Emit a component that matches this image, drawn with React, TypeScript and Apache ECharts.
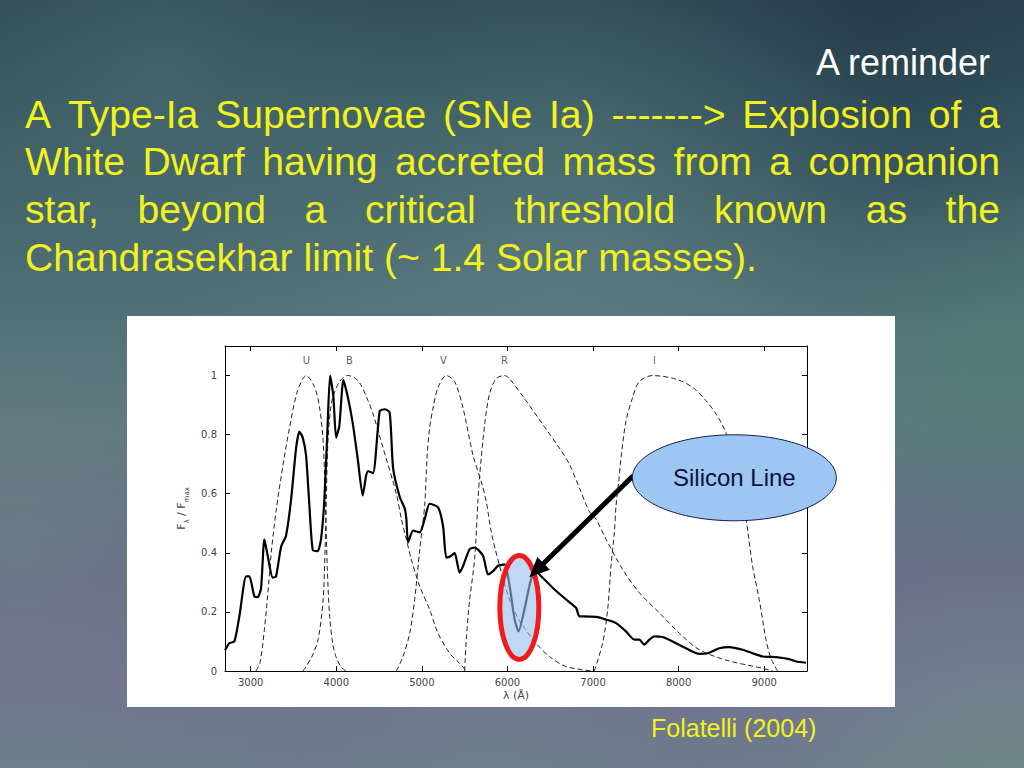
import React, { useEffect, useRef } from "react";
import * as echarts from "echarts";

// ---------- data ----------
const xTicks = [3000, 4000, 5000, 6000, 7000, 8000, 9000];
const yTicks = [0, 0.2, 0.4, 0.6, 0.8, 1];

const spectrum: [number, number][] = [
  [2700, 0.07], [2750, 0.094], [2810, 0.1], [2868, 0.185], [2946, 0.32], [2985, 0.32],
  [3043, 0.253], [3082, 0.25], [3121, 0.28], [3160, 0.446], [3199, 0.39], [3257, 0.316],
  [3296, 0.32], [3355, 0.42], [3413, 0.458], [3472, 0.58], [3530, 0.753], [3569, 0.81],
  [3608, 0.79], [3647, 0.73], [3686, 0.56], [3725, 0.41], [3783, 0.406], [3822, 0.446],
  [3861, 0.58], [3900, 0.84], [3928, 1.0], [3966, 0.93], [3998, 0.79], [4036, 0.83],
  [4083, 0.985], [4133, 0.93], [4192, 0.84], [4250, 0.72], [4309, 0.594], [4348, 0.66],
  [4371, 0.676], [4430, 0.67], [4508, 0.88], [4566, 0.886], [4624, 0.875], [4664, 0.687],
  [4741, 0.59], [4800, 0.55], [4819, 0.514], [4839, 0.435], [4897, 0.475], [4975, 0.469],
  [5033, 0.514], [5091, 0.566], [5189, 0.554], [5248, 0.49], [5286, 0.384], [5345, 0.39],
  [5383, 0.4], [5441, 0.333], [5481, 0.355], [5558, 0.412], [5617, 0.418], [5715, 0.39],
  [5773, 0.327], [5832, 0.338], [5890, 0.356], [5967, 0.361], [6026, 0.287], [6084, 0.174],
  [6130, 0.134], [6198, 0.208], [6276, 0.31], [6334, 0.338], [6393, 0.321], [6528, 0.282],
  [6685, 0.242], [6801, 0.214], [6840, 0.185], [6879, 0.185], [7035, 0.183], [7152, 0.174],
  [7269, 0.162], [7385, 0.134], [7483, 0.106], [7541, 0.106], [7599, 0.089], [7658, 0.106],
  [7716, 0.117], [7813, 0.115], [7930, 0.1], [8086, 0.077], [8242, 0.058], [8339, 0.06],
  [8476, 0.077], [8592, 0.081], [8748, 0.072], [8864, 0.06], [8981, 0.049], [9138, 0.047],
  [9293, 0.04], [9371, 0.032], [9488, 0.028],
];

const filterU: [number, number][] = [
  [3063, 0], [3110, 0.03], [3160, 0.14], [3200, 0.26], [3240, 0.4], [3296, 0.54],
  [3374, 0.69], [3452, 0.82], [3549, 0.95], [3650, 1.0], [3748, 0.96], [3806, 0.89],
  [3846, 0.78], [3870, 0.6], [3895, 0.35], [3923, 0.185], [3960, 0.09], [4001, 0.045],
  [4060, 0.012], [4118, 0],
];
const filterB: [number, number][] = [
  [3612, 0], [3709, 0.045], [3787, 0.106], [3846, 0.24], [3870, 0.42], [3884, 0.58],
  [3900, 0.76], [3930, 0.88], [3963, 0.93], [4040, 0.98], [4130, 1.0], [4200, 0.995],
  [4274, 0.975], [4350, 0.93], [4430, 0.87], [4547, 0.755], [4702, 0.6], [4761, 0.514],
  [4819, 0.446], [4877, 0.378], [4975, 0.287], [5091, 0.208], [5189, 0.128], [5325, 0.06],
  [5441, 0.026], [5520, 0],
];
const filterV: [number, number][] = [
  [4702, 0], [4780, 0.049], [4858, 0.128], [4916, 0.242], [4975, 0.41], [5033, 0.56],
  [5060, 0.72], [5090, 0.82], [5131, 0.89], [5189, 0.96], [5286, 1.0], [5383, 0.98],
  [5481, 0.89], [5598, 0.73], [5695, 0.64], [5753, 0.573], [5812, 0.469], [5909, 0.355],
  [6026, 0.24], [6143, 0.17], [6334, 0.094], [6490, 0.049], [6685, 0.015], [7000, 0],
];
const filterR: [number, number][] = [
  [5500, 0], [5522, 0.12], [5558, 0.24], [5617, 0.38], [5656, 0.58], [5675, 0.66],
  [5734, 0.835], [5792, 0.94], [5870, 0.99], [5967, 1.0], [6022, 0.99], [6217, 0.915],
  [6411, 0.835], [6606, 0.755], [6723, 0.7], [6840, 0.62], [6957, 0.54], [7035, 0.514],
  [7152, 0.446], [7346, 0.344], [7541, 0.265], [7775, 0.197], [8008, 0.128], [8242, 0.072],
  [8553, 0.037], [8981, 0.009], [9100, 0],
];
const filterI: [number, number][] = [
  [7015, 0], [7112, 0.094], [7171, 0.208], [7210, 0.355], [7249, 0.469], [7269, 0.56],
  [7300, 0.64], [7327, 0.72], [7385, 0.846], [7463, 0.926], [7541, 0.98], [7696, 1.0],
  [7969, 0.988], [8164, 0.96], [8320, 0.915], [8437, 0.87], [8553, 0.806], [8680, 0.66],
  [8787, 0.514], [8864, 0.355], [8942, 0.242], [9021, 0.106], [9079, 0.043], [9157, 0],
];
const filters = [filterU, filterB, filterV, filterR, filterI];

const bandNames = ["U", "B", "V", "R", "I"];
const bandLabelWave = [3651, 4153, 5252, 5965, 7718];
const bandLabelLevel = 1.05;

const headline = "A reminder";
const bodyLines = [
  "A Type-Ia Supernovae (SNe Ia) -------> Explosion of a",
  "White Dwarf having accreted mass from a companion",
  "star, beyond a critical threshold known as the",
  "Chandrasekhar limit (~ 1.4 Solar masses).",
];
const calloutText = "Silicon Line";
const sourceText = "Folatelli (2004)";

// annotation anchors in data space [wavelength, flux]
const siliconCenter: [number, number] = [6139, 0.215];
const calloutCenter: [number, number] = [8651, 0.654];
const arrowStart: [number, number] = [7469, 0.661];
const arrowTip: [number, number] = [6256, 0.317];

// ---------- styling ----------
const SANS = '"Liberation Sans", Arial, sans-serif';
const AXFONT = '"DejaVu Sans", sans-serif';
const YELLOW = "#f2f21c";

function radial(color: string) {
  return {
    type: "radial", x: 0.5, y: 0.5, r: 0.5,
    colorStops: [
      { offset: 0, color },
      { offset: 1, color: color.replace(/[\d.]+\)$/, "0)") },
    ],
  };
}

export default function App() {
  const ref = useRef<HTMLDivElement>(null);

  useEffect(() => {
    document.body.style.margin = "0";
    const chart = echarts.init(ref.current!, null, { renderer: "svg", width: 1024, height: 768 });

    const axisLineStyle = { color: "#000", width: 1 };
    const plain = (v: number) => String(v);
    const option: any = {
      animation: false,
      grid: { left: 225, top: 346, width: 582, height: 325, containLabel: false },
      xAxis: [
        {
          type: "value", min: 2700, max: 9500, position: "bottom",
          axisLine: { show: true, onZero: false, lineStyle: axisLineStyle },
          axisTick: { show: true, inside: true, length: 5, customValues: xTicks, lineStyle: axisLineStyle },
          axisLabel: { customValues: xTicks, formatter: plain, color: "#444", fontFamily: AXFONT, fontSize: 10, margin: 6 },
          splitLine: { show: false },
          name: "λ (Å)", nameLocation: "middle", nameGap: 19,
          nameTextStyle: { color: "#444", fontFamily: AXFONT, fontSize: 11 },
        },
        {
          type: "value", min: 2700, max: 9500, position: "top",
          axisLine: { show: true, onZero: false, lineStyle: axisLineStyle },
          axisTick: { show: true, inside: true, length: 5, customValues: xTicks, lineStyle: axisLineStyle },
          axisLabel: { show: false },
          splitLine: { show: false },
        },
      ],
      yAxis: [
        {
          type: "value", min: 0, max: 1.1, position: "left",
          axisLine: { show: true, onZero: false, lineStyle: axisLineStyle },
          axisTick: { show: true, inside: true, length: 5, customValues: yTicks, lineStyle: axisLineStyle },
          axisLabel: { customValues: yTicks, formatter: plain, color: "#444", fontFamily: AXFONT, fontSize: 10, margin: 8 },
          splitLine: { show: false },
          name: "{n|F}{s|λ}{n| / F}{s|max}", nameLocation: "middle", nameGap: 27,
          nameTextStyle: {
            color: "#444",
            rich: {
              n: { fontFamily: AXFONT, fontSize: 11, color: "#444", lineHeight: 18 },
              s: { fontFamily: AXFONT, fontSize: 7, color: "#444", verticalAlign: "bottom", lineHeight: 18 },
            },
          },
        },
        {
          type: "value", min: 0, max: 1.1, position: "right",
          axisLine: { show: true, onZero: false, lineStyle: axisLineStyle },
          axisTick: { show: true, inside: true, length: 5, customValues: yTicks, lineStyle: axisLineStyle },
          axisLabel: { show: false },
          splitLine: { show: false },
        },
      ],
      series: [
        ...filters.map((d, i) => ({
          name: bandNames[i], type: "line", data: d, xAxisIndex: 0, yAxisIndex: 0,
          symbol: "none", smooth: 0.3, z: 3, silent: true,
          lineStyle: { color: "#222", width: 1, type: [5, 3] },
        })),
        {
          name: "spectrum", type: "line", data: spectrum, xAxisIndex: 0, yAxisIndex: 0,
          symbol: "none", smooth: 0.2, z: 5, silent: true,
          lineStyle: { color: "#000", width: 2.2 },
        },
        {
          name: "bands", type: "scatter", xAxisIndex: 0, yAxisIndex: 0, silent: true,
          data: bandNames.map((n, i) => ({ name: n, value: [bandLabelWave[i], bandLabelLevel] })),
          symbolSize: 1, itemStyle: { color: "rgba(0,0,0,0)" },
          label: { show: true, position: "inside", formatter: "{b}", color: "#333", fontFamily: AXFONT, fontSize: 10 },
        },
      ],
    };
    chart.setOption(option);

    // ----- text measurement for justified paragraph -----
    const ctx = document.createElement("canvas").getContext("2d")!;
    const bodySize = 38;
    const bodyScale = 1.03;
    ctx.font = `${bodySize}px "Liberation Sans"`;
    const left = 25, right = 1000;
    const lineY = [115, 162, 210, 258];
    const textEls: any[] = [];
    bodyLines.forEach((line, li) => {
      const words = line.split(" ");
      const widths = words.map((w) => ctx.measureText(w).width * bodyScale);
      const total = widths.reduce((a, b) => a + b, 0);
      const last = li === bodyLines.length - 1;
      const gap = last ? ctx.measureText(" ").width * bodyScale : (right - left - total) / (words.length - 1);
      let x = left;
      words.forEach((w, wi) => {
        textEls.push({
          type: "text", x, y: lineY[li], scaleX: bodyScale, z: 20, silent: true,
          style: {
            text: w, fill: YELLOW, fontSize: bodySize, fontFamily: SANS,
            textAlign: "left", align: "left", textVerticalAlign: "middle", verticalAlign: "middle",
          },
        });
        x += widths[wi] + gap;
      });
    });

    const px = (p: [number, number]) => chart.convertToPixel({ xAxisIndex: 0, yAxisIndex: 0 }, p) as number[];
    const sc = px(siliconCenter);
    const cc = px(calloutCenter);
    const a0 = px(arrowStart);
    const a1 = px(arrowTip);
    const dx = a1[0] - a0[0], dy = a1[1] - a0[1];
    const len = Math.hypot(dx, dy);
    const ux = dx / len, uy = dy / len;
    const headLen = 20, headHalf = 9;
    const bx = a1[0] - ux * headLen, by = a1[1] - uy * headLen;

    const graphic: any[] = [
      {
        type: "rect", z: -100, silent: true,
        shape: { x: 0, y: 0, width: 1024, height: 768 },
        style: {
          fill: {
            type: "linear", x: 0, y: 0, x2: 0, y2: 1,
            colorStops: [
              { offset: 0, color: "#2e4852" },
              { offset: 0.15, color: "#385a62" },
              { offset: 0.35, color: "#4c6c73" },
              { offset: 0.55, color: "#607a80" },
              { offset: 0.75, color: "#6a7089" },
              { offset: 0.9, color: "#72778f" },
              { offset: 1, color: "#6d7f88" },
            ],
          },
        },
      },
      { type: "circle", z: -99, silent: true, shape: { cx: 880, cy: 20, r: 320 }, style: { fill: radial("rgba(30,50,66,0.5)") } },
      { type: "circle", z: -99, silent: true, shape: { cx: 160, cy: 70, r: 260 }, style: { fill: radial("rgba(84,116,120,0.45)") } },
      { type: "circle", z: -99, silent: true, shape: { cx: 560, cy: 270, r: 380 }, style: { fill: radial("rgba(104,136,138,0.4)") } },
      { type: "circle", z: -99, silent: true, shape: { cx: 1000, cy: 360, r: 200 }, style: { fill: radial("rgba(78,128,118,0.55)") } },
      { type: "circle", z: -99, silent: true, shape: { cx: 20, cy: 540, r: 180 }, style: { fill: radial("rgba(110,130,128,0.45)") } },
      { type: "circle", z: -99, silent: true, shape: { cx: 520, cy: 720, r: 460 }, style: { fill: radial("rgba(112,108,150,0.35)") } },
      { type: "circle", z: -99, silent: true, shape: { cx: 1010, cy: 770, r: 220 }, style: { fill: radial("rgba(112,142,136,0.55)") } },
      { type: "circle", z: -99, silent: true, shape: { cx: 500, cy: 780, r: 200 }, style: { fill: radial("rgba(110,136,132,0.4)") } },
      {
        type: "rect", z: -90, silent: true,
        shape: { x: 127, y: 316, width: 768, height: 391 },
        style: { fill: "#ffffff" },
      },
      {
        type: "text", x: 990, y: 62, z: 20, silent: true,
        style: {
          text: headline, fill: "#ffffff", fontSize: 36, fontFamily: SANS,
          textAlign: "right", align: "right", textVerticalAlign: "middle", verticalAlign: "middle",
        },
      },
      ...textEls,
      {
        type: "text", x: 651, y: 728, z: 20, silent: true,
        style: {
          text: sourceText, fill: YELLOW, fontSize: 25, fontFamily: SANS,
          textAlign: "left", align: "left", textVerticalAlign: "middle", verticalAlign: "middle",
        },
      },
      {
        type: "ellipse", z: 100, silent: true,
        shape: { cx: sc[0], cy: sc[1], rx: 19.5, ry: 52 },
        style: { fill: "rgba(150,190,235,0.6)", stroke: "#ee1c1c", lineWidth: 5 },
      },
      {
        type: "line", z: 101, silent: true,
        shape: { x1: a0[0], y1: a0[1], x2: bx + ux * 2, y2: by + uy * 2 },
        style: { stroke: "#000", lineWidth: 5 },
      },
      {
        type: "polygon", z: 101, silent: true,
        shape: {
          points: [
            [a1[0], a1[1]],
            [bx - uy * headHalf, by + ux * headHalf],
            [bx + uy * headHalf, by - ux * headHalf],
          ],
        },
        style: { fill: "#000" },
      },
      {
        type: "ellipse", z: 102, silent: true,
        shape: { cx: cc[0], cy: cc[1], rx: 102, ry: 43 },
        style: { fill: "#9cc7f3", stroke: "#1a1a4a", lineWidth: 1 },
      },
      {
        type: "text", x: cc[0], y: cc[1], z: 103, silent: true,
        style: {
          text: calloutText, fill: "#10103a", fontSize: 24, fontFamily: SANS,
          textAlign: "center", align: "center", textVerticalAlign: "middle", verticalAlign: "middle",
        },
      },
    ];
    chart.setOption({ graphic });

    return () => chart.dispose();
  }, []);

  return <div ref={ref} style={{ position: "absolute", left: 0, top: 0, width: 1024, height: 768 }} />;
}
